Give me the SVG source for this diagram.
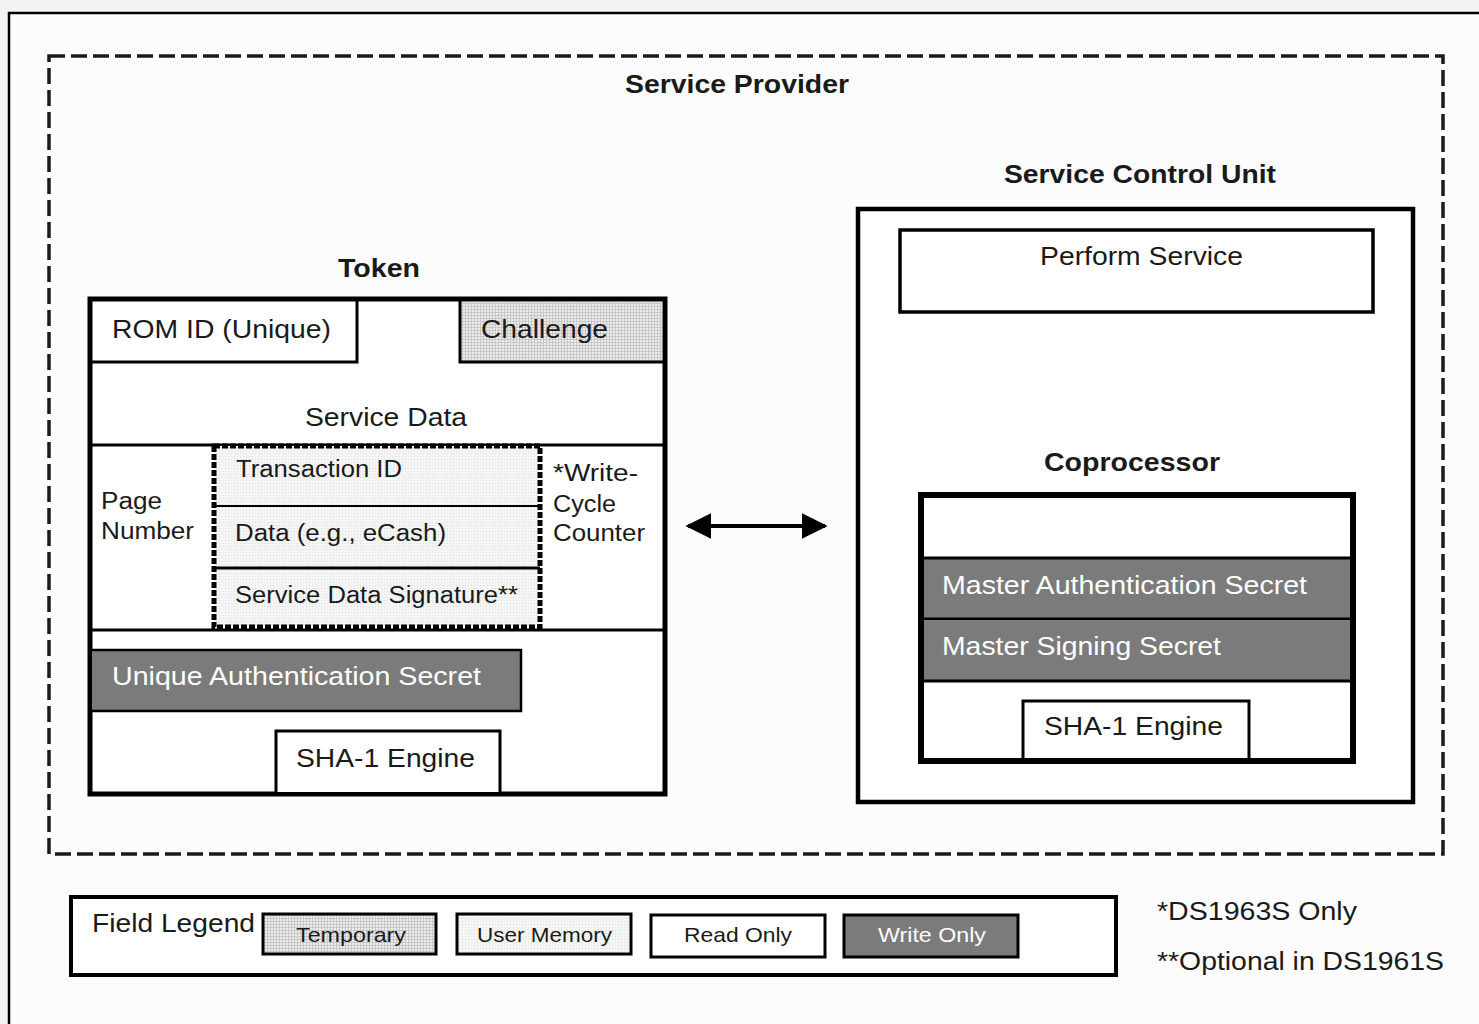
<svg xmlns="http://www.w3.org/2000/svg" width="1479" height="1024" viewBox="0 0 1479 1024">
<style>
text { font-family: "Liberation Sans", Arial, sans-serif; fill: #1a1a1a; }
.t { font-size: 26px; }
.s { font-size: 23px; }
.l { font-size: 21px; }
.b { font-weight: bold; font-size: 26px; }
.w { fill: #ffffff; }
.sec { fill: #7b7b7b; }
</style>
<defs>
<pattern id="temp" width="3" height="3" patternUnits="userSpaceOnUse">
<rect width="3" height="3" fill="#ececec"/>
<rect width="3" height="1" fill="#c8c8c8"/>
<rect width="1" height="3" fill="#c8c8c8"/>
</pattern>
<pattern id="user" width="3" height="3" patternUnits="userSpaceOnUse">
<rect width="3" height="3" fill="#f4f5f4"/>
<rect width="1" height="1" fill="#dcdedc"/>
</pattern>
<marker id="ah" viewBox="0 0 10 10" refX="9" refY="5" markerWidth="6.5" markerHeight="6.5" markerUnits="strokeWidth" orient="auto-start-reverse">
<path d="M0,0 L10,5 L0,10 z" fill="#000"/>
</marker>
</defs>

<rect x="0" y="0" width="1479" height="1024" fill="#f3f3f3"/>
<rect x="8" y="12" width="1471" height="1012" fill="#fbfcfb"/>
<path d="M9 1024 V13 H1479" fill="none" stroke="#000" stroke-width="2.5"/>

<g id="service-provider">
<rect x="49" y="56" width="1394" height="798" fill="none" stroke="#1a1a1a" stroke-width="3.5" stroke-dasharray="16,6"/>
<text class="b" x="625" y="93" textLength="224" lengthAdjust="spacingAndGlyphs">Service Provider</text>
</g>

<g id="token">
<text class="b" x="338" y="277" textLength="82" lengthAdjust="spacingAndGlyphs">Token</text>
<rect x="90" y="299" width="575" height="495" fill="#ffffff" stroke="#000" stroke-width="5"/>
<g id="rom-id">
<path d="M357 301 V362 H92" fill="none" stroke="#000" stroke-width="3"/>
<text class="t" x="112" y="338" textLength="219" lengthAdjust="spacingAndGlyphs">ROM ID (Unique)</text>
</g>
<g id="challenge">
<rect x="460" y="302" width="202" height="60" fill="url(#temp)"/>
<path d="M460 301 V362 H663" fill="none" stroke="#000" stroke-width="3"/>
<text class="t" x="481" y="338" textLength="127" lengthAdjust="spacingAndGlyphs">Challenge</text>
</g>
<g id="service-data">
<text class="t" x="305" y="426" textLength="162" lengthAdjust="spacingAndGlyphs">Service Data</text>
<line x1="92" y1="445" x2="663" y2="445" stroke="#000" stroke-width="3"/>
<line x1="92" y1="630" x2="663" y2="630" stroke="#000" stroke-width="3"/>
<text class="s" x="101" y="509" textLength="61" lengthAdjust="spacingAndGlyphs">Page</text>
<text class="s" x="101" y="539" textLength="93" lengthAdjust="spacingAndGlyphs">Number</text>
<text class="s" x="553" y="481" textLength="85" lengthAdjust="spacingAndGlyphs">*Write-</text>
<text class="s" x="553" y="512" textLength="63" lengthAdjust="spacingAndGlyphs">Cycle</text>
<text class="s" x="553" y="541" textLength="92" lengthAdjust="spacingAndGlyphs">Counter</text>
</g>
<g id="user-memory">
<rect x="214" y="446" width="326" height="181" fill="url(#user)"/>
<line x1="214" y1="506" x2="540" y2="506" stroke="#000" stroke-width="2"/>
<line x1="214" y1="568" x2="540" y2="568" stroke="#000" stroke-width="3"/>
<rect x="214" y="446" width="326" height="181" fill="none" stroke="#000" stroke-width="5" stroke-dasharray="6,2"/>
<text class="s" x="236" y="477" textLength="166" lengthAdjust="spacingAndGlyphs">Transaction ID</text>
<text class="s" x="235" y="541" textLength="211" lengthAdjust="spacingAndGlyphs">Data (e.g., eCash)</text>
<text class="s" x="235" y="603" textLength="283" lengthAdjust="spacingAndGlyphs">Service Data Signature**</text>
</g>
<g id="unique-secret">
<rect x="92" y="650" width="429" height="60" class="sec"/>
<path d="M92 650 H521 V711 H92" fill="none" stroke="#000" stroke-width="2.5"/>
<text class="t w" x="112" y="685" textLength="369" lengthAdjust="spacingAndGlyphs">Unique Authentication Secret</text>
</g>
<g id="token-sha1">
<path d="M276 792 V731 H500 V792" fill="#ffffff" stroke="#000" stroke-width="3"/>
<text class="t" x="296" y="767" textLength="179" lengthAdjust="spacingAndGlyphs">SHA-1 Engine</text>
</g>
</g>

<g id="service-control-unit">
<text class="b" x="1004" y="183" textLength="272" lengthAdjust="spacingAndGlyphs">Service Control Unit</text>
<rect x="858" y="209" width="555" height="593" fill="#ffffff" stroke="#000" stroke-width="4.5"/>
<g id="perform-service">
<rect x="900" y="230" width="473" height="82" fill="#ffffff" stroke="#000" stroke-width="3.5"/>
<text class="t" x="1040" y="265" textLength="203" lengthAdjust="spacingAndGlyphs">Perform Service</text>
</g>
<g id="coprocessor">
<text class="b" x="1044" y="471" textLength="176" lengthAdjust="spacingAndGlyphs">Coprocessor</text>
<rect x="921" y="495" width="432" height="266" fill="#ffffff" stroke="#000" stroke-width="6"/>
<rect x="924" y="559" width="426" height="59" class="sec"/>
<rect x="924" y="621" width="426" height="59" class="sec"/>
<line x1="924" y1="558" x2="1350" y2="558" stroke="#000" stroke-width="3"/>
<line x1="924" y1="619" x2="1350" y2="619" stroke="#000" stroke-width="3"/>
<line x1="924" y1="681" x2="1350" y2="681" stroke="#000" stroke-width="3"/>
<text class="t w" x="942" y="594" textLength="365" lengthAdjust="spacingAndGlyphs">Master Authentication Secret</text>
<text class="t w" x="942" y="655" textLength="279" lengthAdjust="spacingAndGlyphs">Master Signing Secret</text>
<path d="M1023 758 V701 H1249 V758" fill="#ffffff" stroke="#000" stroke-width="3"/>
<text class="t" x="1044" y="735" textLength="179" lengthAdjust="spacingAndGlyphs">SHA-1 Engine</text>
</g>
</g>

<g id="connectors">
<line x1="688" y1="526" x2="825" y2="526" stroke="#000" stroke-width="4" marker-start="url(#ah)" marker-end="url(#ah)"/>
</g>

<g id="legend">
<rect x="71" y="897" width="1045" height="78" fill="#ffffff" stroke="#000" stroke-width="4"/>
<text class="t" x="92" y="932" textLength="163" lengthAdjust="spacingAndGlyphs">Field Legend</text>
<g id="legend-temporary">
<rect x="263" y="914" width="173" height="40" fill="url(#temp)" stroke="#000" stroke-width="3"/>
<text class="l" x="296" y="942" textLength="110" lengthAdjust="spacingAndGlyphs">Temporary</text>
</g>
<g id="legend-user">
<rect x="457" y="914" width="174" height="40" fill="url(#user)" stroke="#000" stroke-width="3"/>
<text class="l" x="477" y="942" textLength="135" lengthAdjust="spacingAndGlyphs">User Memory</text>
</g>
<g id="legend-read">
<rect x="651" y="915" width="174" height="42" fill="#ffffff" stroke="#000" stroke-width="3"/>
<text class="l" x="684" y="942" textLength="108" lengthAdjust="spacingAndGlyphs">Read Only</text>
</g>
<g id="legend-write">
<rect x="844" y="915" width="174" height="42" class="sec" stroke="#000" stroke-width="3"/>
<text class="l w" x="878" y="942" textLength="108" lengthAdjust="spacingAndGlyphs">Write Only</text>
</g>
</g>

<g id="notes">
<text class="t" x="1157" y="920" textLength="200" lengthAdjust="spacingAndGlyphs">*DS1963S Only</text>
<text class="t" x="1157" y="970" textLength="287" lengthAdjust="spacingAndGlyphs">**Optional in DS1961S</text>
</g>
</svg>
